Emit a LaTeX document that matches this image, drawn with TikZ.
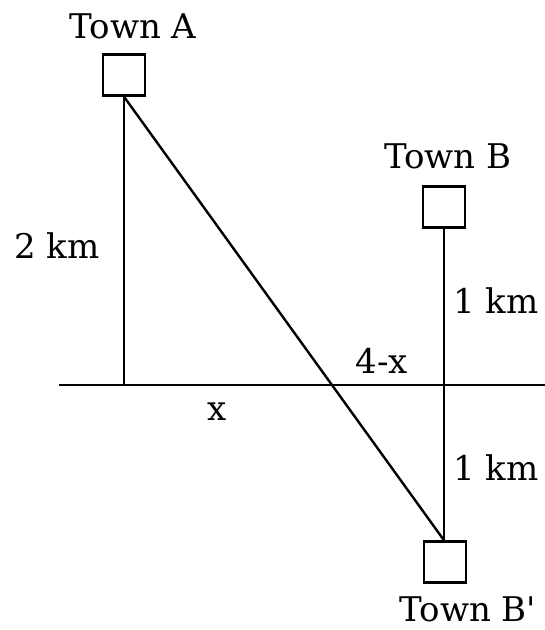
\documentclass[tikz,border=0pt]{standalone}
\usepackage{fontspec}
\setmainfont{DejaVu Serif}
\usepackage{tikz}
\begin{document}
\begin{tikzpicture}[x=1pt,y=-1pt,line width=2.4pt,
  town/.style={draw,minimum width=42pt,minimum height=41pt,inner sep=0pt},
  lbl/.style={anchor=base,inner sep=0pt,font=\fontsize{34}{40}\selectfont}]
\useasboundingbox (0,0) rectangle (545,630);
% towns and the road
\node[town] (boxA) at (124,75) {};
\node[town] (boxB) at (444,207) {};
\node[town] (boxBp) at (445,562) {};
\coordinate (roadL) at (59,385);
\coordinate (roadR) at (545,385);
\coordinate (footA) at (boxA.south |- roadL);
\draw (roadL) -- (roadR);
\draw (boxA.south) -- (footA);
\draw (boxB.south) -- (boxBp.north -| boxB.south);
\draw (boxA.south) -- (boxBp.north -| boxB.south);
% labels
\node[lbl] (townA) at (133,38) {Town A};
\node[lbl] (townB) at (448,168) {Town B};
\node[lbl] (townBp) at (468,621) {Town B\textquotesingle};
\node[lbl] (distA) at (57,258) {2 km};
\node[lbl] (distB) at (496,313) {1 km};
\node[lbl] (distBp) at (496,480) {1 km};
\node[lbl] (rest) at (382,373) {4-x};
\node[lbl] (part) at (217,420) {x};
\end{tikzpicture}
\end{document}
